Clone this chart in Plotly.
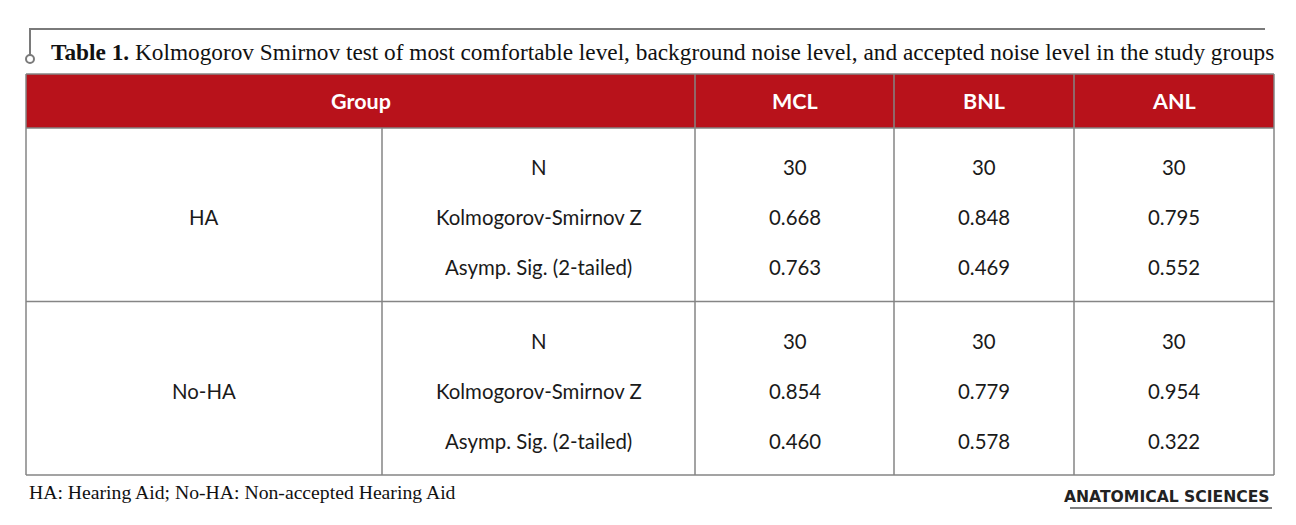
import plotly.graph_objects as go

# valores de la tabla
groups = ["HA", "No-HA"]
stats = ["N", "Kolmogorov-Smirnov Z", "Asymp. Sig. (2-tailed)"]
measures = ["MCL", "BNL", "ANL"]
mcl = [30, 0.668, 0.763, 30, 0.854, 0.460]
bnl = [30, 0.848, 0.469, 30, 0.779, 0.578]
anl = [30, 0.795, 0.552, 30, 0.954, 0.322]

title_bold = "Table 1."
title_rest = ("Kolmogorov Smirnov test of most comfortable level, background noise level, "
              "and accepted noise level in the study groups")
footnote = "HA: Hearing Aid; No-HA: Non-accepted Hearing Aid"
brand = "ANATOMICAL SCIENCES"

W, H = 1296, 525
OFF = 8  # margen por defecto del body en la pagina
RED = "#B8121B"
GRID = "#858585"
SANS = "Lato"
SERIF = "Liberation Serif"

col_edges = [26, 382, 695, 894, 1074, 1274]
head_top, head_bot = 74, 128
block_h = 173.5
sub_off = [39, 89, 139]


def fmt(v):
    return str(int(v)) if v >= 1 else "%.3f" % v


fig = go.Figure()
shapes = []
ann = []

# marco del titulo
shapes.append(dict(type="line", x0=30, x1=1265, y0=29, y1=29,
                   line=dict(color="#7a7a7a", width=2.2)))
shapes.append(dict(type="line", x0=30, x1=30, y0=28, y1=55,
                   line=dict(color="#7a7a7a", width=2)))
shapes.append(dict(type="circle", x0=26, x1=34, y0=55, y1=63,
                   line=dict(color="#7a7a7a", width=2), fillcolor="white"))

# cabecera roja
shapes.append(dict(type="rect", x0=col_edges[0], x1=col_edges[-1], y0=head_top, y1=head_bot,
                   fillcolor=RED, line=dict(width=0), layer="below"))

table_bot = head_bot + block_h * len(groups)
# lineas horizontales
for y in [head_top, head_bot] + [head_bot + block_h * (i + 1) for i in range(len(groups))]:
    shapes.append(dict(type="line", x0=col_edges[0], x1=col_edges[-1], y0=y, y1=y,
                       line=dict(color=GRID, width=1.5)))
# lineas verticales
for i, x in enumerate(col_edges):
    y0 = head_bot if i == 1 else head_top
    shapes.append(dict(type="line", x0=x, x1=x, y0=y0, y1=table_bot,
                       line=dict(color=GRID, width=1.5)))

# textos cabecera
hy = (head_top + head_bot) / 2
ann.append(dict(x=(col_edges[0] + col_edges[2]) / 2, y=hy, text="<b>Group</b>",
                font=dict(family=SANS, size=21.5, color="white")))
for j, m in enumerate(measures):
    ann.append(dict(x=(col_edges[j + 2] + col_edges[j + 3]) / 2, y=hy, text="<b>%s</b>" % m,
                    font=dict(family=SANS, size=21.5, color="white")))

# cuerpo
cols = [mcl, bnl, anl]
for g, name in enumerate(groups):
    top = head_bot + block_h * g
    ann.append(dict(x=(col_edges[0] + col_edges[1]) / 2, y=top + sub_off[1], text=name,
                    font=dict(family=SANS, size=20.4, color="#1a1a1a")))
    for s, st in enumerate(stats):
        yy = top + sub_off[s]
        ann.append(dict(x=(col_edges[1] + col_edges[2]) / 2, y=yy, text=st,
                        font=dict(family=SANS, size=20.4, color="#1a1a1a")))
        for j, vals in enumerate(cols):
            ann.append(dict(x=(col_edges[j + 2] + col_edges[j + 3]) / 2, y=yy,
                            text=fmt(vals[g * 3 + s]),
                            font=dict(family=SANS, size=20.4, color="#1a1a1a")))

# titulo
ann.append(dict(x=49, y=52, xanchor="left", text="<b>%s</b> %s" % (title_bold, title_rest),
                font=dict(family=SERIF, size=23.3, color="#111111")))
# nota al pie
ann.append(dict(x=27, y=492, xanchor="left", text=footnote,
                font=dict(family=SERIF, size=19.7, color="#111111")))
# logo
ann.append(dict(x=1272, y=497, xanchor="right", text="<b>%s</b>" % brand,
                font=dict(family="DejaVu Sans", size=15.6, color="#222222")))
shapes.append(dict(type="line", x0=1070, x1=1272, y0=508, y1=508,
                   line=dict(color="#555555", width=1.5)))

for a in ann:
    a.update(xref="x", yref="y", showarrow=False)

fig.update_layout(
    width=W, height=H,
    margin=dict(l=0, r=0, t=0, b=0),
    paper_bgcolor="white", plot_bgcolor="white",
    xaxis=dict(range=[OFF, W + OFF], visible=False, fixedrange=True),
    yaxis=dict(range=[H + OFF, OFF], visible=False, fixedrange=True),
    shapes=shapes, annotations=ann,
    showlegend=False,
)

fig.write_html("out.html")
